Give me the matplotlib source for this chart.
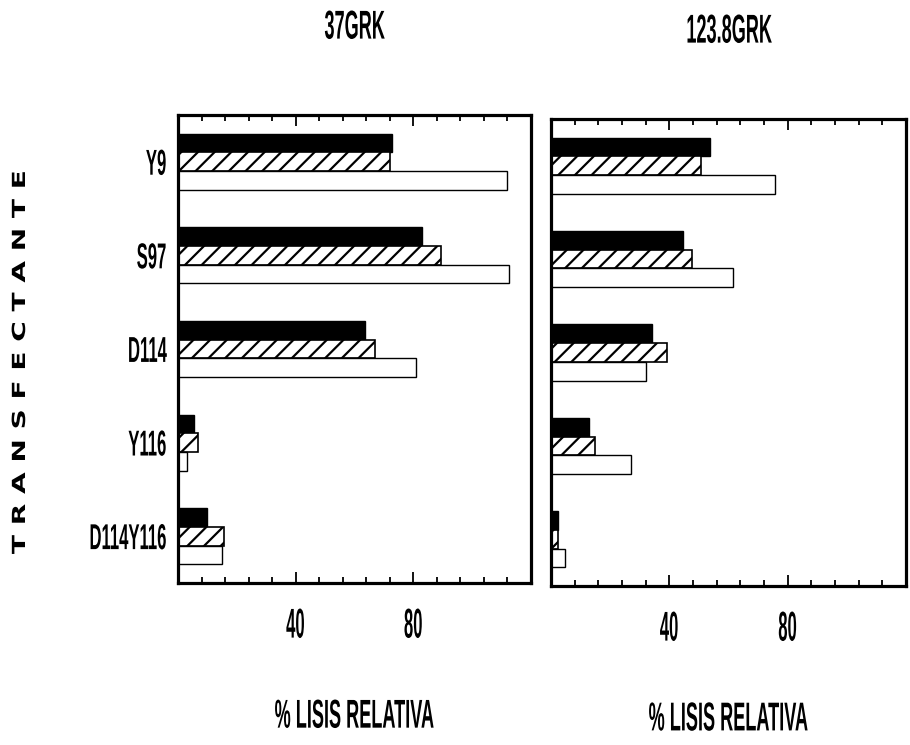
import numpy as np
import matplotlib
matplotlib.use("Agg")
import matplotlib.pyplot as plt
from matplotlib import patheffects
from matplotlib.ticker import MultipleLocator
from matplotlib.transforms import Affine2D

categories = ["Y9", "S97", "D114", "Y116", "D114Y116"]
panel_titles = ["37GRK", "123.8GRK"]
x_ticks = [40, 80]

# % relative lysis, one list per bar style
solid_37 = [72.8, 83.1, 63.7, 5.5, 9.7]
hatched_37 = [71.9, 89.3, 66.8, 6.8, 15.6]
open_37 = [112.0, 112.4, 81.0, 2.9, 14.8]

solid_123 = [53.7, 44.7, 34.3, 12.7, 2.5]
hatched_123 = [50.7, 47.8, 39.2, 15.0, 2.2]
open_123 = [75.7, 61.6, 32.1, 27.0, 4.8]

plt.rcParams["hatch.linewidth"] = 1.6


class Squeeze(patheffects.AbstractPathEffect):
    """Rescale a text path about its ink box (condensed / extended lettering)."""

    def __init__(self, sx=1.0, sy=1.0, anchor="center"):
        super().__init__()
        self.sx, self.sy, self.anchor = sx, sy, anchor

    def draw_path(self, renderer, gc, tpath, affine, rgbFace=None):
        box = tpath.get_extents(affine)
        cx = box.x1 if self.anchor == "right" else (box.x0 + box.x1) / 2
        cy = (box.y0 + box.y1) / 2
        squeeze = Affine2D().translate(-cx, -cy).scale(self.sx, self.sy).translate(cx, cy)
        renderer.draw_path(gc, tpath, affine + squeeze, rgbFace)


narrow = dict(family="Liberation Sans", weight="bold")

W, H = 910, 745
fig = plt.figure(figsize=(W / 100, H / 100), dpi=100)


def add_panel(x0, y0, x1, y1):
    return fig.add_axes([x0 / W, 1 - y1 / H, (x1 - x0) / W, (y1 - y0) / H])


panels = [
    (add_panel(178, 115, 531, 583), panel_titles[0], solid_37, hatched_37, open_37),
    (add_panel(551, 119, 906, 586), panel_titles[1], solid_123, hatched_123, open_123),
]

y = np.arange(len(categories))
h = 0.2

for i, (ax, title, solid, hatched, blank) in enumerate(panels):
    ax.barh(y - h, solid, height=h, color="black", edgecolor="black", linewidth=1.0)
    ax.barh(y, hatched, height=h, color="white", edgecolor="black", linewidth=1.2, hatch="//")
    ax.barh(y + h, blank, height=h, color="white", edgecolor="black", linewidth=1.0)

    ax.set_xlim(0, 120)
    ax.set_ylim(len(categories) - 0.5, -0.5)

    ax.set_xticks(x_ticks)
    ax.xaxis.set_minor_locator(MultipleLocator(8))
    ax.tick_params(axis="x", which="both", direction="in", top=True, bottom=True,
                   width=1.3, pad=17, labelsize=30)
    ax.tick_params(axis="x", which="major", length=8)
    ax.tick_params(axis="x", which="minor", length=4)
    for lbl in ax.get_xticklabels():
        lbl.set_fontfamily(narrow["family"])
        lbl.set_fontweight(narrow["weight"])
        lbl.set_path_effects([Squeeze(sx=0.4)])

    ax.set_yticks(y)
    if i == 0:
        ax.set_yticklabels(categories, fontsize=24, **narrow)
        for lbl in ax.get_yticklabels():
            lbl.set_path_effects([Squeeze(sx=0.5, sy=1.08, anchor="right")])
    else:
        ax.set_yticklabels([])
    ax.tick_params(axis="y", length=0, pad=8)

    for s in ax.spines.values():
        s.set_linewidth(2.3)

    ax.set_title(title, fontsize=29, pad=55, **narrow,
                 path_effects=[Squeeze(sx=0.45)])
    ax.set_xlabel("% LISIS RELATIVA", fontsize=29, **narrow,
                  path_effects=[Squeeze(sx=0.45)])
    ax.xaxis.set_label_coords(0.5, -0.245)

fig.text(20 / W, 1 - 363 / H, "T R A N S F E C T A N T E", rotation=90,
         ha="center", va="center", fontsize=13, family="DejaVu Sans", weight="bold",
         path_effects=[Squeeze(sy=1.55)])

fig.savefig("out.png", dpi=100)
